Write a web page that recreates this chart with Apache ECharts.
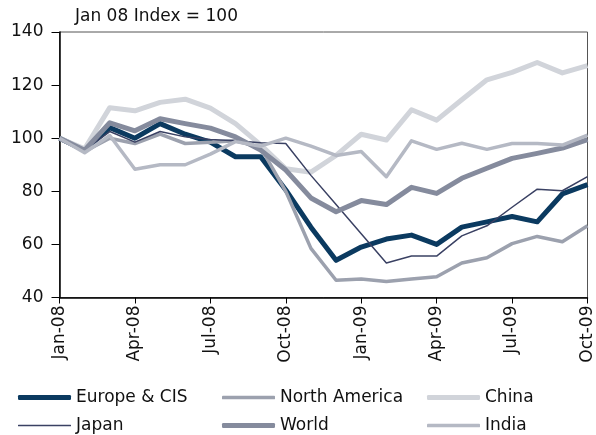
<!DOCTYPE html>
<html>
<head>
<meta charset="utf-8">
<script src="https://cdn.jsdelivr.net/npm/echarts@6/dist/echarts.min.js"></script>
<style>
  html, body { margin: 0; padding: 0; background: #fff; }
  #chart { width: 596px; height: 435px; }
</style>
</head>
<body>
<div id="chart"></div>
<script>
// Monthly index values, Jan 08 = 100
const months = ['Jan-08','Feb-08','Mar-08','Apr-08','May-08','Jun-08','Jul-08','Aug-08','Sep-08','Oct-08','Nov-08','Dec-08',
                'Jan-09','Feb-09','Mar-09','Apr-09','May-09','Jun-09','Jul-09','Aug-09','Sep-09','Oct-09'];

const europeCIS    = [100, 95.5, 104, 100, 105.5, 101.5, 98.5, 93, 93, 80.5, 66.5, 54, 59, 62, 63.5, 60, 66.5, 68.5, 70.5, 68.5, 79, 82.5];
const northAmerica = [100, 95, 100, 98, 101.5, 98, 98.5, 99, 96.5, 80, 58.5, 46.5, 47, 46, 47, 47.8, 53, 55, 60.3, 63, 61, 67];
const china        = [100, 96, 111.5, 110.3, 113.5, 114.7, 111.3, 105.5, 97.5, 88.5, 87.2, 93.5, 101.5, 99.3, 110.7, 106.8, 114.5, 122, 124.8, 128.5, 124.6, 127.3];
const japan        = [100, 95.5, 102.5, 98.5, 102.5, 100.5, 99.5, 99, 98.3, 98, 86, 75, 64, 53, 55.6, 55.6, 63.2, 67, 74, 80.8, 80.2, 85.5];
const world        = [100, 95.5, 105.8, 102.8, 107.3, 105.5, 103.8, 100.5, 95.5, 88, 77.5, 72.3, 76.5, 75, 81.5, 79.2, 84.9, 88.7, 92.4, 94.3, 96.3, 99.5];
const india        = [100, 94.5, 101, 88.3, 90, 90, 94, 98.7, 97, 100, 97, 93.5, 95, 85.5, 99, 95.8, 98.1, 95.8, 98, 98, 97.4, 101.2];

const yTicks = { min: 40, max: 140, step: 20 };

const FONT = 'DejaVu Sans';
const TEXT = '#111';

const seriesDefs = [
  { name: 'Europe & CIS',  data: europeCIS,    color: '#0b3a60', width: 5,   legend: [18, 389] },
  { name: 'North America', data: northAmerica, color: '#9ca1ae', width: 3.5, legend: [222, 389] },
  { name: 'China',         data: china,        color: '#d1d4da', width: 5,   legend: [427, 389] },
  { name: 'Japan',         data: japan,        color: '#3a4163', width: 1.5, legend: [18, 417] },
  { name: 'World',         data: world,        color: '#858b9d', width: 5,   legend: [222, 417] },
  { name: 'India',         data: india,        color: '#b5b9c4', width: 3.5, legend: [427, 417] }
];

const chart = echarts.init(document.getElementById('chart'), null, { renderer: 'canvas' });

chart.setOption({
  animation: false,
  textStyle: { fontFamily: FONT },
  title: {
    text: 'Jan 08 Index = 100',
    left: 70, top: 3,
    textStyle: { fontFamily: FONT, fontSize: 17, fontWeight: 'normal', color: TEXT }
  },
  grid: {
    left: 59.5, right: 3.5, top: 32, bottom: 137.5,
    show: true, borderColor: '#555', borderWidth: 1,
    containLabel: false
  },
  legend: seriesDefs.map(s => ({
    data: [s.name],
    left: s.legend[0], top: s.legend[1],
    padding: 0,
    itemWidth: 53,
    itemHeight: Math.max(s.width, 1.5),
    itemGap: 5,
    icon: 'roundRect',
    textStyle: { fontFamily: FONT, fontSize: 17, color: TEXT, padding: [0, 0, 0, 0] },
    selectedMode: false
  })),
  xAxis: {
    type: 'category',
    data: months,
    boundaryGap: false,
    axisLine: { show: true, lineStyle: { color: '#000', width: 1.5 } },
    axisTick: { show: true, interval: 2, length: 6, lineStyle: { color: '#000' } },
    axisLabel: {
      interval: 2, rotate: 90, margin: 8,
      fontFamily: FONT, fontSize: 17, color: TEXT
    },
    splitLine: { show: false }
  },
  yAxis: {
    type: 'value',
    min: yTicks.min, max: yTicks.max, interval: yTicks.step,
    axisLine: { show: true, lineStyle: { color: '#000', width: 1.5 } },
    axisTick: { show: true, length: 8, lineStyle: { color: '#000' } },
    axisLabel: { margin: 16, fontFamily: FONT, fontSize: 17, color: TEXT },
    splitLine: { show: false }
  },
  series: seriesDefs.map(s => ({
    name: s.name,
    type: 'line',
    data: s.data,
    symbol: 'none',
    color: s.color,
    lineStyle: { color: s.color, width: s.width, join: 'round' }
  }))
});
</script>
</body>
</html>
